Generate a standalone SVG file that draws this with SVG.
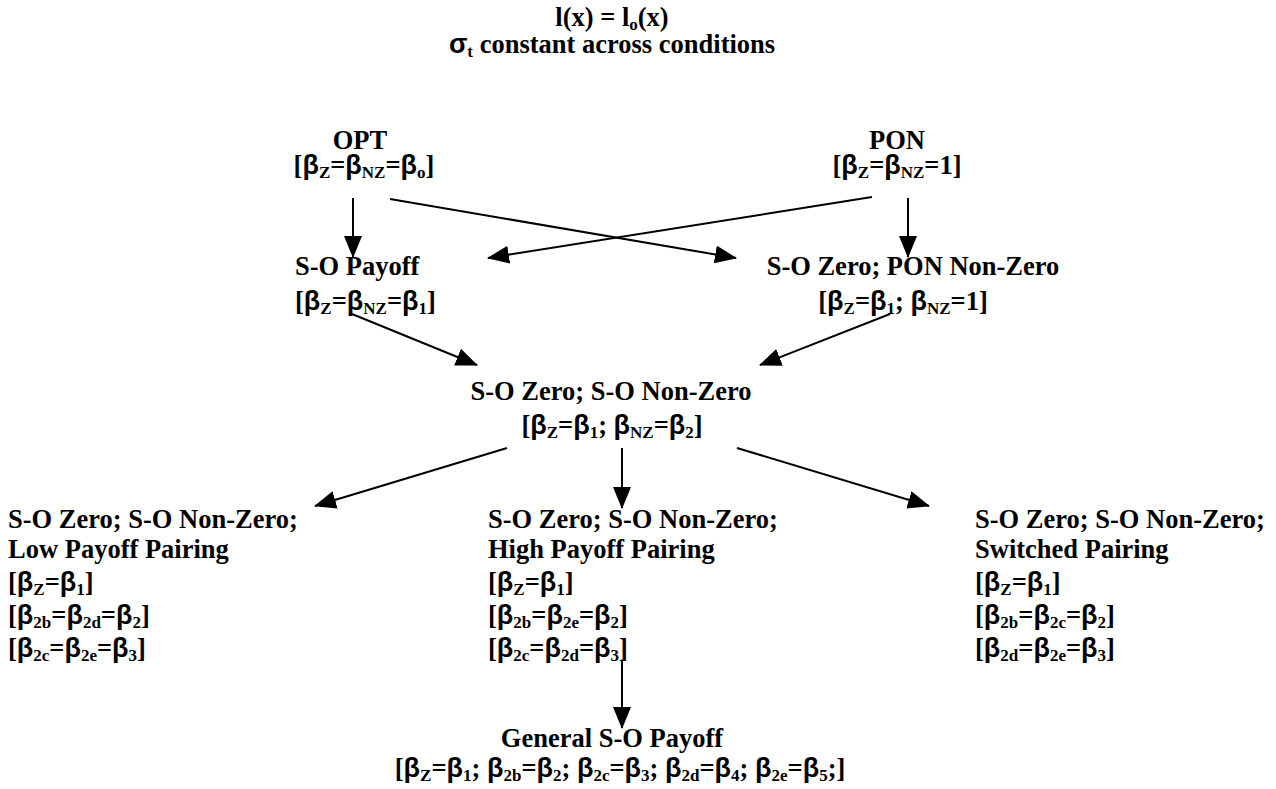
<svg xmlns="http://www.w3.org/2000/svg" width="1276" height="789" viewBox="0 0 1276 789">
<style>
.t{font-family:"Liberation Serif","Times New Roman",serif;font-weight:bold;font-size:26.5px;fill:#000}
.m{text-anchor:middle}
.b{font-family:"Liberation Sans",Arial,sans-serif;font-weight:bold;font-size:27px}
.s{font-size:17px}
.c{stroke:#000;stroke-width:2;fill:none;marker-end:url(#ah)}
</style>
<defs>
<marker id="ah" markerUnits="userSpaceOnUse" markerWidth="22" markerHeight="18" refX="21" refY="9" orient="auto">
<path d="M0,0 L22,9 L0,18 z" fill="#000"/>
</marker>
</defs>
<rect width="1276" height="789" fill="#fff"/>
<g id="title">
<text class="t m" x="612" y="26">l(x) = l<tspan class="s" dy="4">o</tspan><tspan dy="-4">(x)</tspan></text>
<text class="t m" x="612" y="53"><tspan class="b">σ</tspan><tspan class="s" dy="4">t</tspan><tspan dy="-4"> constant across conditions</tspan></text>
</g>
<g id="opt">
<text class="t m" x="360" y="149">OPT</text>
<text class="t m" x="364" y="174">[<tspan class="b">β</tspan><tspan class="s" dy="4">Z</tspan><tspan dy="-4">=</tspan><tspan class="b">β</tspan><tspan class="s" dy="4">NZ</tspan><tspan dy="-4">=</tspan><tspan class="b">β</tspan><tspan class="s" dy="4">o</tspan><tspan dy="-4">]</tspan></text>
</g>
<g id="pon">
<text class="t m" x="897" y="149">PON</text>
<text class="t m" x="897" y="174">[<tspan class="b">β</tspan><tspan class="s" dy="4">Z</tspan><tspan dy="-4">=</tspan><tspan class="b">β</tspan><tspan class="s" dy="4">NZ</tspan><tspan dy="-4">=1]</tspan></text>
</g>
<g id="so-payoff">
<text class="t" x="295" y="275">S-O Payoff</text>
<text class="t" x="295" y="310">[<tspan class="b">β</tspan><tspan class="s" dy="4">Z</tspan><tspan dy="-4">=</tspan><tspan class="b">β</tspan><tspan class="s" dy="4">NZ</tspan><tspan dy="-4">=</tspan><tspan class="b">β</tspan><tspan class="s" dy="4">1</tspan><tspan dy="-4">]</tspan></text>
</g>
<g id="so-zero-pon-nonzero">
<text class="t m" x="913" y="275">S-O Zero; PON Non-Zero</text>
<text class="t m" x="903" y="310">[<tspan class="b">β</tspan><tspan class="s" dy="4">Z</tspan><tspan dy="-4">=</tspan><tspan class="b">β</tspan><tspan class="s" dy="4">1</tspan><tspan dy="-4">; </tspan><tspan class="b">β</tspan><tspan class="s" dy="4">NZ</tspan><tspan dy="-4">=1]</tspan></text>
</g>
<g id="so-zero-so-nonzero">
<text class="t m" x="611" y="400">S-O Zero; S-O Non-Zero</text>
<text class="t m" x="612" y="434">[<tspan class="b">β</tspan><tspan class="s" dy="4">Z</tspan><tspan dy="-4">=</tspan><tspan class="b">β</tspan><tspan class="s" dy="4">1</tspan><tspan dy="-4">; </tspan><tspan class="b">β</tspan><tspan class="s" dy="4">NZ</tspan><tspan dy="-4">=</tspan><tspan class="b">β</tspan><tspan class="s" dy="4">2</tspan><tspan dy="-4">]</tspan></text>
</g>
<g id="low-payoff">
<text class="t" x="8" y="528">S-O Zero; S-O Non-Zero;</text>
<text class="t" x="8" y="558">Low Payoff Pairing</text>
<text class="t" x="8" y="591">[<tspan class="b">β</tspan><tspan class="s" dy="4">Z</tspan><tspan dy="-4">=</tspan><tspan class="b">β</tspan><tspan class="s" dy="4">1</tspan><tspan dy="-4">]</tspan></text>
<text class="t" x="8" y="624">[<tspan class="b">β</tspan><tspan class="s" dy="4">2b</tspan><tspan dy="-4">=</tspan><tspan class="b">β</tspan><tspan class="s" dy="4">2d</tspan><tspan dy="-4">=</tspan><tspan class="b">β</tspan><tspan class="s" dy="4">2</tspan><tspan dy="-4">]</tspan></text>
<text class="t" x="8" y="657">[<tspan class="b">β</tspan><tspan class="s" dy="4">2c</tspan><tspan dy="-4">=</tspan><tspan class="b">β</tspan><tspan class="s" dy="4">2e</tspan><tspan dy="-4">=</tspan><tspan class="b">β</tspan><tspan class="s" dy="4">3</tspan><tspan dy="-4">]</tspan></text>
</g>
<g id="high-payoff">
<text class="t" x="488" y="528">S-O Zero; S-O Non-Zero;</text>
<text class="t" x="488" y="558">High Payoff Pairing</text>
<text class="t" x="488" y="591">[<tspan class="b">β</tspan><tspan class="s" dy="4">Z</tspan><tspan dy="-4">=</tspan><tspan class="b">β</tspan><tspan class="s" dy="4">1</tspan><tspan dy="-4">]</tspan></text>
<text class="t" x="488" y="624">[<tspan class="b">β</tspan><tspan class="s" dy="4">2b</tspan><tspan dy="-4">=</tspan><tspan class="b">β</tspan><tspan class="s" dy="4">2e</tspan><tspan dy="-4">=</tspan><tspan class="b">β</tspan><tspan class="s" dy="4">2</tspan><tspan dy="-4">]</tspan></text>
<text class="t" x="488" y="657">[<tspan class="b">β</tspan><tspan class="s" dy="4">2c</tspan><tspan dy="-4">=</tspan><tspan class="b">β</tspan><tspan class="s" dy="4">2d</tspan><tspan dy="-4">=</tspan><tspan class="b">β</tspan><tspan class="s" dy="4">3</tspan><tspan dy="-4">]</tspan></text>
</g>
<g id="switched">
<text class="t" x="975" y="528">S-O Zero; S-O Non-Zero;</text>
<text class="t" x="975" y="558">Switched Pairing</text>
<text class="t" x="975" y="591">[<tspan class="b">β</tspan><tspan class="s" dy="4">Z</tspan><tspan dy="-4">=</tspan><tspan class="b">β</tspan><tspan class="s" dy="4">1</tspan><tspan dy="-4">]</tspan></text>
<text class="t" x="975" y="624">[<tspan class="b">β</tspan><tspan class="s" dy="4">2b</tspan><tspan dy="-4">=</tspan><tspan class="b">β</tspan><tspan class="s" dy="4">2c</tspan><tspan dy="-4">=</tspan><tspan class="b">β</tspan><tspan class="s" dy="4">2</tspan><tspan dy="-4">]</tspan></text>
<text class="t" x="975" y="657">[<tspan class="b">β</tspan><tspan class="s" dy="4">2d</tspan><tspan dy="-4">=</tspan><tspan class="b">β</tspan><tspan class="s" dy="4">2e</tspan><tspan dy="-4">=</tspan><tspan class="b">β</tspan><tspan class="s" dy="4">3</tspan><tspan dy="-4">]</tspan></text>
</g>
<g id="general">
<text class="t m" x="612" y="747">General S-O Payoff</text>
<text class="t m" x="620" y="777">[<tspan class="b">β</tspan><tspan class="s" dy="4">Z</tspan><tspan dy="-4">=</tspan><tspan class="b">β</tspan><tspan class="s" dy="4">1</tspan><tspan dy="-4">; </tspan><tspan class="b">β</tspan><tspan class="s" dy="4">2b</tspan><tspan dy="-4">=</tspan><tspan class="b">β</tspan><tspan class="s" dy="4">2</tspan><tspan dy="-4">; </tspan><tspan class="b">β</tspan><tspan class="s" dy="4">2c</tspan><tspan dy="-4">=</tspan><tspan class="b">β</tspan><tspan class="s" dy="4">3</tspan><tspan dy="-4">; </tspan><tspan class="b">β</tspan><tspan class="s" dy="4">2d</tspan><tspan dy="-4">=</tspan><tspan class="b">β</tspan><tspan class="s" dy="4">4</tspan><tspan dy="-4">; </tspan><tspan class="b">β</tspan><tspan class="s" dy="4">2e</tspan><tspan dy="-4">=</tspan><tspan class="b">β</tspan><tspan class="s" dy="4">5</tspan><tspan dy="-4">;]</tspan></text>
</g>
<g id="connectors">
<line class="c" x1="353" y1="198" x2="353" y2="257"/>
<line class="c" x1="390" y1="199" x2="736" y2="258"/>
<line class="c" x1="872" y1="197" x2="488" y2="258"/>
<line class="c" x1="908" y1="198" x2="908" y2="257"/>
<line class="c" x1="352" y1="314" x2="477" y2="365"/>
<line class="c" x1="890" y1="314" x2="760" y2="365"/>
<line class="c" x1="507" y1="448" x2="315" y2="506"/>
<line class="c" x1="622" y1="448" x2="622" y2="508"/>
<line class="c" x1="737" y1="448" x2="929" y2="506"/>
<line class="c" x1="622" y1="661" x2="622" y2="728"/>
</g>
</svg>
